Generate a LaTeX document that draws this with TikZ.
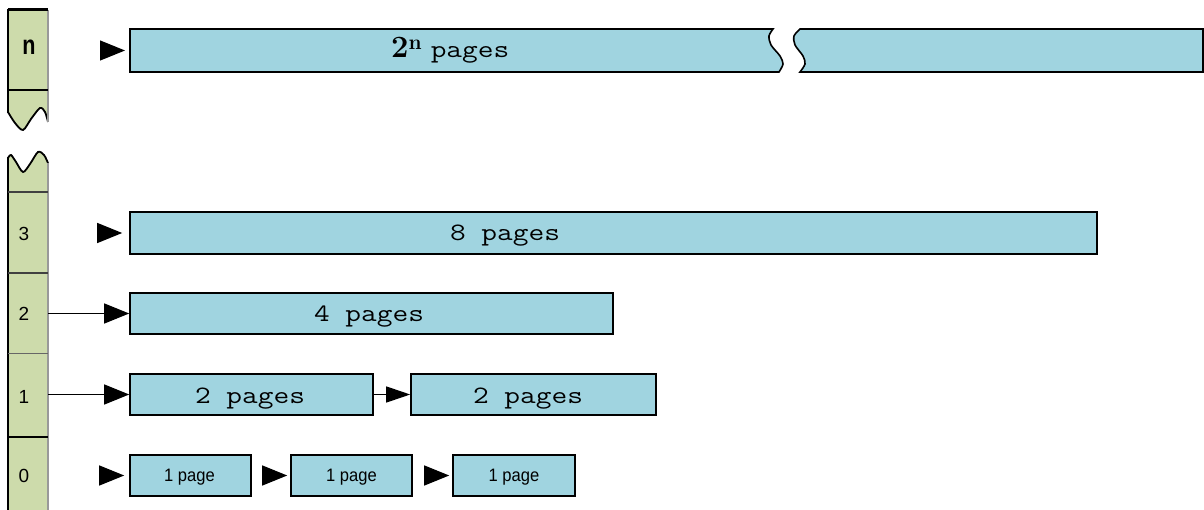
\documentclass[tikz,border=0pt]{standalone}
\usepackage{fontspec}
\usepackage{graphicx}
\usetikzlibrary{arrows.meta}
\newfontfamily\labelsans{Liberation Sans}
\definecolor{pageblue}{RGB}{160,212,224}
\definecolor{levelgreen}{RGB}{205,219,171}
\newcommand\widett[1]{\scalebox{1.22}[1]{#1}}
\newcommand\narrowsf[1]{\scalebox{0.92}[1]{#1}}

\begin{document}
\begin{tikzpicture}[x=1pt,y=-1pt,
  pagebox/.style={draw=black, line width=1.6pt, fill=pageblue, inner sep=0pt},
  cell/.style={fill=levelgreen, inner sep=0pt, minimum width=40pt},
  tip/.style={-{Triangle[length=25pt,width=20pt]}, line width=1.2pt},
  smalltip/.style={-{Triangle[length=24pt,width=16pt]}, line width=1.2pt},
  monotext/.style={anchor=base, inner sep=0pt, font=\fontsize{25}{25}\selectfont\ttfamily},
  onepage/.style={anchor=base, inner sep=0pt, font=\labelsans\fontsize{18}{18}\selectfont},
  levellabel/.style={anchor=base, inner sep=0pt, font=\labelsans\fontsize{19}{19}\selectfont},
  divider/.style={line width=1.6pt}
]
\useasboundingbox (0,0) rectangle (1204,510);

% ---------- level column ----------
\node[cell, minimum height=80pt] (cn) at (28,50) {};
\node[cell, minimum height=81pt] (c3) at (28,232.5) {};
\node[cell, minimum height=81pt] (c2) at (28,313.5) {};
\node[cell, minimum height=83pt] (c1) at (28,395.5) {};
\node[cell, minimum height=75pt] (c0) at (28,474.5) {};

% torn ends of the column
\fill[levelgreen] (8,89) -- (8,112)
  -- plot[smooth] coordinates {(8,112) (15,123) (23,130) (31,119) (40,108) (45,112) (48,122)}
  -- (48,89) -- cycle;
\draw[line width=1.8pt] plot[smooth] coordinates {(8,112) (15,123) (23,130) (31,119) (40,108) (45,112) (48,122)};
\fill[levelgreen] (8,193) -- (8,158)
  -- plot[smooth] coordinates {(8,158) (11,155) (16,162) (23,172) (30,164) (38,152) (44,155) (48,163)}
  -- (48,193) -- cycle;
\draw[line width=1.8pt] plot[smooth] coordinates {(8,158) (11,155) (16,162) (23,172) (30,164) (38,152) (44,155) (48,163)};

% column borders
\draw[line width=2.6pt] (8,9) -- (8,113);
\draw[line width=2.6pt] (8,157) -- (8,512);
\draw[black!40, line width=1.2pt] (48,10) -- (48,122);
\draw[black!40, line width=1.2pt] (48,163) -- (48,512);
\draw[line width=2.6pt] (cn.north west) -- (cn.north east);
\draw[divider] (cn.south west) -- (cn.south east);
\draw[divider, black!75] (c3.north west) -- (c3.north east);
\draw[divider, black!75] (c2.north west) -- (c2.north east);
\draw[line width=1.1pt, black!60] (c1.north west) -- (c1.north east);
\draw[divider] (c0.north west) -- (c0.north east);

% level numbers
\node[anchor=base, inner sep=0pt, font=\labelsans\bfseries\fontsize{27}{27}\selectfont] (ln) at (29,55) {\scalebox{0.8}[1]{n}};
\node[levellabel] (l3) at (24,241) {3};
\node[levellabel] (l2) at (24,320) {2};
\node[levellabel] (l1) at (24,403) {1};
\node[levellabel] (l0) at (24,482) {0};

% ---------- level n: a block broken in the middle ----------
\filldraw[fill=pageblue, draw=black, line width=1.6pt]
  (130,29) -- (773,29)
  -- plot[smooth] coordinates {(773,29) (769,36) (771,45) (780,56) (783,64) (779,72)}
  -- (130,72) -- cycle;
\filldraw[fill=pageblue, draw=black, line width=1.6pt]
  (1203,29) -- (800,29)
  -- plot[smooth] coordinates {(800,29) (794,36) (795,45) (803,56) (805,64) (800,72)}
  -- (1203,72) -- cycle;
\coordinate (bn) at (130,50.5);
\node[anchor=base west, inner sep=0pt] (tn) at (391,58)
  {\rmfamily\bfseries\fontsize{31}{31}\selectfont 2\raisebox{8pt}{\bfseries\fontsize{21}{21}\selectfont n}%
   \hspace{9pt}{\fontsize{25}{25}\selectfont\mdseries\ttfamily\widett{pages}}};

% ---------- levels 3 .. 0 ----------
\node[pagebox, minimum width=967pt, minimum height=42pt] (b3) at (613.5,233) {};
\node[monotext] (t3) at (505,241) {\widett{8 pages}};

\node[pagebox, minimum width=483pt, minimum height=41pt] (b2) at (371.5,313.5) {};
\node[monotext] (t2) at (369,322) {\widett{4 pages}};

\node[pagebox, minimum width=243pt, minimum height=41pt] (b1a) at (251.5,394.5) {};
\node[monotext] (t1a) at (250,403) {\widett{2 pages}};
\node[pagebox, minimum width=245pt, minimum height=41pt] (b1b) at (533.5,394.5) {};
\node[monotext] (t1b) at (528,403) {\widett{2 pages}};

\node[pagebox, minimum width=121pt, minimum height=41pt] (b0a) at (190.5,475.5) {};
\node[onepage] (t0a) at (189.5,481) {\narrowsf{1 page}};
\node[pagebox, minimum width=121pt, minimum height=41pt] (b0b) at (351.5,475.5) {};
\node[onepage] (t0b) at (351.5,481) {\narrowsf{1 page}};
\node[pagebox, minimum width=122pt, minimum height=41pt] (b0c) at (514,475.5) {};
\node[onepage] (t0c) at (514,481) {\narrowsf{1 page}};

% ---------- pointers ----------
\coordinate (an) at (102,50.5);
\draw[tip, shorten >=5pt] (an) -- (bn);
\coordinate (a3) at (97,233);
\draw[tip, shorten >=7pt] (a3) -- (b3.west);
\draw[tip] (c2.east |- b2.west) -- (b2.west);
\draw[tip] (c1.east |- b1a.west) -- (b1a.west);
\draw[smalltip] (b1a.east) -- (b1b.west);
\coordinate (a0) at (100,475.5);
\draw[tip, shorten >=5pt] (a0) -- (b0a.west);
\coordinate (a0b) at (265,475.5);
\draw[tip, shorten >=3pt] (a0b) -- (b0b.west);
\coordinate (a0c) at (427,475.5);
\draw[tip, shorten >=3pt] (a0c) -- (b0c.west);
\end{tikzpicture}
\end{document}
